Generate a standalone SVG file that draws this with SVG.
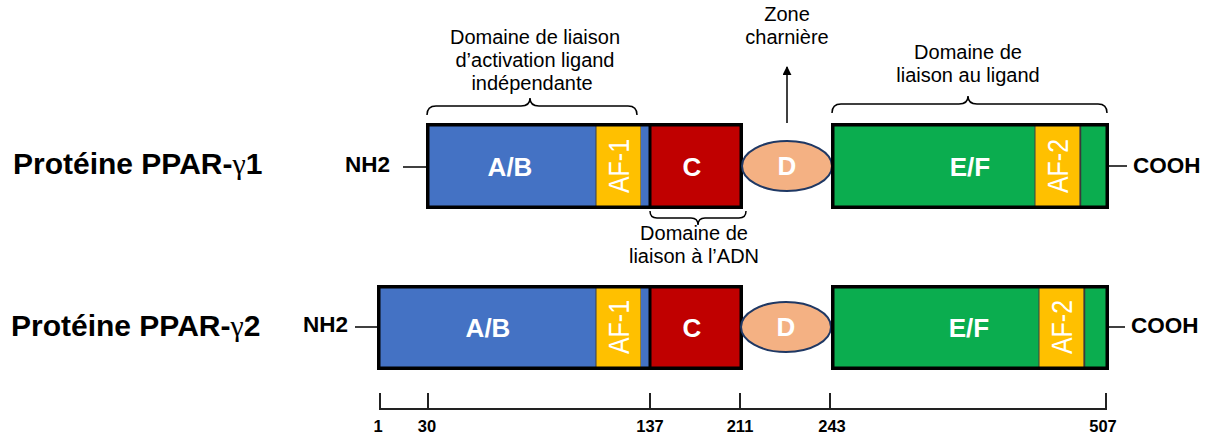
<svg xmlns="http://www.w3.org/2000/svg" width="1216" height="436" viewBox="0 0 1216 436">
<defs>
<style>
.title{font-family:"Liberation Sans",Arial,sans-serif;font-weight:bold;font-size:30px;fill:#000;}
.lbl{font-family:"Liberation Sans",Arial,sans-serif;font-size:20px;fill:#000;text-anchor:middle;}
.term{font-family:"Liberation Sans",Arial,sans-serif;font-weight:bold;font-size:22.5px;fill:#000;}
.dom{font-family:"Liberation Sans",Arial,sans-serif;font-weight:bold;font-size:26px;fill:#fff;text-anchor:middle;}
.af{font-family:"Liberation Sans",Arial,sans-serif;font-size:29px;fill:#fff;text-anchor:middle;}
.num{font-family:"Liberation Sans",Arial,sans-serif;font-weight:bold;font-size:16.5px;fill:#000;text-anchor:middle;}
.blue{fill:#4472C4;}
.yel{fill:#FFC000;stroke:#404040;stroke-width:1;}
.red{fill:#C00000;}
.grn{fill:#0BAD4F;}
.sep{stroke:#000;stroke-width:3;}
.sept{stroke:#3a3a3a;stroke-width:1.5;}
.outer{fill:none;stroke:#000;stroke-width:3.5;}
.ell{fill:#F4B183;stroke:#1F3864;stroke-width:2;}
.ln{stroke:#000;stroke-width:1.5;fill:none;}
.br{stroke:#000;stroke-width:1.5;fill:none;}
.axis{stroke:#222;stroke-width:2;fill:none;}
</style>
<marker id="arr" viewBox="0 0 10 10" refX="9" refY="5" markerWidth="9" markerHeight="9" markerUnits="userSpaceOnUse" orient="auto">
<path d="M0,0 L10,5 L0,10 z" fill="#000"/>
</marker>
</defs>

<!-- Titles -->
<g id="title1"><text class="title" x="13" y="174">Protéine PPAR-<tspan font-family="Liberation Serif,serif" font-weight="normal">γ</tspan>1</text></g>
<g id="title2"><text class="title" x="11" y="336">Protéine PPAR-<tspan font-family="Liberation Serif,serif" font-weight="normal">γ</tspan>2</text></g>

<!-- Row 1 -->
<g id="nh2-1"><text class="term" x="345" y="172">NH2</text></g>
<g id="box1-row1">
<rect class="blue" x="428" y="125" width="168" height="82"/>
<text class="dom" x="510" y="176">A/B</text>
<rect class="yel" x="596" y="125" width="45" height="82"/>
<text class="af" transform="translate(618,166) rotate(-90)" x="0" y="10.5" textLength="54" lengthAdjust="spacingAndGlyphs">AF-1</text>
<rect class="blue" x="641" y="125" width="8" height="82"/>
<rect class="red" x="650" y="125" width="91" height="82"/>
<line class="sep" x1="650" y1="125" x2="650" y2="207"/>
<text class="dom" x="692" y="176">C</text>
<rect class="outer" x="427.75" y="124.75" width="313.5" height="82.5"/>
</g>
<g id="d-row1">
<ellipse class="ell" cx="787" cy="166" rx="45" ry="25"/>
<text class="dom" x="787" y="175">D</text>
</g>
<g id="box2-row1">
<rect class="grn" x="833" y="125" width="202" height="82"/>
<text class="dom" x="970" y="176" font-size="27">E/F</text>
<rect class="yel" x="1035" y="125" width="45" height="82"/>
<text class="af" transform="translate(1057,166) rotate(-90)" x="0" y="10.5" textLength="54" lengthAdjust="spacingAndGlyphs">AF-2</text>
<rect class="grn" x="1081" y="125" width="26" height="82"/>
<line class="sept" x1="1080.5" y1="125" x2="1080.5" y2="207"/>
<rect class="outer" x="832.75" y="124.75" width="274.5" height="82.5"/>
</g>
<g id="cooh-1"><text class="term" x="1133" y="173">COOH</text></g>

<!-- Row 2 -->
<g id="nh2-2"><text class="term" x="303" y="332">NH2</text></g>
<g id="box1-row2">
<rect class="blue" x="379" y="287" width="217" height="81"/>
<text class="dom" x="488" y="337">A/B</text>
<rect class="yel" x="596" y="287" width="45" height="81"/>
<text class="af" transform="translate(618,327) rotate(-90)" x="0" y="10.5" textLength="54" lengthAdjust="spacingAndGlyphs">AF-1</text>
<rect class="blue" x="641" y="287" width="8" height="81"/>
<rect class="red" x="650" y="287" width="91" height="81"/>
<line class="sep" x1="650" y1="287" x2="650" y2="368"/>
<text class="dom" x="692" y="337">C</text>
<rect class="outer" x="378.75" y="286.75" width="362.5" height="81.5"/>
</g>
<g id="d-row2">
<ellipse class="ell" cx="786" cy="327" rx="45" ry="25"/>
<text class="dom" x="786" y="336">D</text>
</g>
<g id="box2-row2">
<rect class="grn" x="833" y="287" width="206" height="81"/>
<text class="dom" x="969" y="337" font-size="27">E/F</text>
<rect class="yel" x="1039" y="287" width="45" height="81"/>
<text class="af" transform="translate(1061,327) rotate(-90)" x="0" y="10.5" textLength="54" lengthAdjust="spacingAndGlyphs">AF-2</text>
<rect class="grn" x="1085" y="287" width="22" height="81"/>
<line class="sept" x1="1084.5" y1="287" x2="1084.5" y2="368"/>
<rect class="outer" x="832.75" y="286.75" width="274.5" height="81.5"/>
</g>
<g id="cooh-2"><text class="term" x="1131" y="333">COOH</text></g>

<!-- Annotations -->
<g id="label-af-lig">
<text class="lbl" x="535" y="44">Domaine de liaison</text>
<text class="lbl" x="535" y="67">d’activation ligand</text>
<text class="lbl" x="532" y="90">indépendante</text>
</g>
<g id="label-zone">
<text class="lbl" x="787" y="21">Zone</text>
<text class="lbl" x="787" y="44">charnière</text>
</g>
<g id="label-ligand">
<text class="lbl" x="968" y="59">Domaine de</text>
<text class="lbl" x="968" y="82">liaison au ligand</text>
</g>
<g id="label-adn">
<text class="lbl" x="694" y="240">Domaine de</text>
<text class="lbl" x="694" y="263">liaison à l’ADN</text>
</g>

<!-- Connectors -->
<g id="connectors">
<line class="ln" x1="403" y1="167" x2="427" y2="167"/>
<line class="ln" x1="1109" y1="166" x2="1127" y2="166"/>
<line class="ln" x1="355" y1="327" x2="378" y2="327"/>
<line class="ln" x1="1109" y1="327" x2="1125" y2="327"/>
<line class="ln" x1="787" y1="123" x2="787" y2="67" marker-end="url(#arr)"/>
<path class="br" d="M427,115 Q427,106 436,106 L521,106 Q530,106 530,98 Q530,106 539,106 L628,106 Q637,106 637,115"/>
<path class="br" d="M832,113 Q832,104 841,104 L959,104 Q968,104 968,96 Q968,104 977,104 L1098,104 Q1107,104 1107,113"/>
<path class="br" d="M650,211 Q650,218 657,218 L691,218 Q698,218 698,225 Q698,218 705,218 L739,218 Q746,218 746,211"/>
<path class="axis" d="M380,393 L380,409 L1106,409 L1106,393"/>
<line class="axis" x1="428" y1="393" x2="428" y2="409"/>
<line class="axis" x1="650" y1="393" x2="650" y2="409"/>
<line class="axis" x1="740" y1="393" x2="740" y2="409"/>
<line class="axis" x1="830" y1="393" x2="830" y2="409"/>
</g>

<g id="scale-labels">
<text class="num" x="378" y="432">1</text>
<text class="num" x="427" y="432">30</text>
<text class="num" x="650" y="432">137</text>
<text class="num" x="740" y="432">211</text>
<text class="num" x="832" y="432">243</text>
<text class="num" x="1103" y="432">507</text>
</g>
</svg>
